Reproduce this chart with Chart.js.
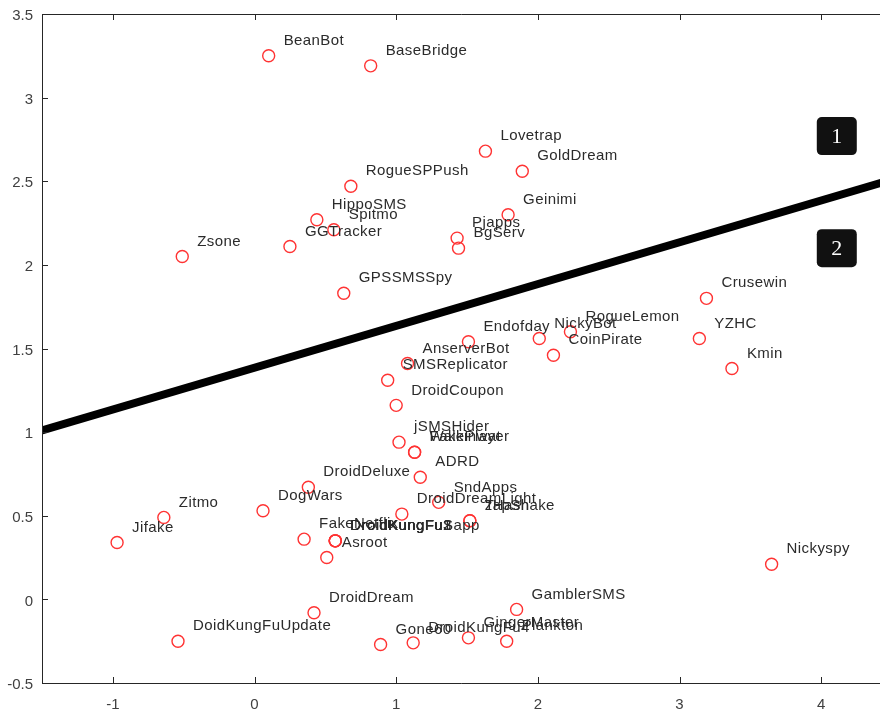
<!DOCTYPE html>
<html>
<head>
<meta charset="utf-8">
<script src="https://cdn.jsdelivr.net/npm/chart.js@4.4.0/dist/chart.umd.min.js"></script>
<style>
  html, body { margin: 0; padding: 0; background: #fff; overflow: hidden; }
  #wrap { width: 880px; height: 714px; position: relative; }
</style>
</head>
<body>
<div id="wrap"><canvas id="c"></canvas></div>
<script>
// malware families, position in the 2-D projection
const names = ['BeanBot', 'BaseBridge', 'Lovetrap', 'GoldDream', 'RogueSPPush', 'HippoSMS', 'Spitmo', 'GGTracker',
  'Geinimi', 'Pjapps', 'BgServ', 'Zsone', 'GPSSMSSpy', 'Crusewin', 'YZHC', 'Kmin', 'Endofday', 'NickyBot',
  'RogueLemon', 'CoinPirate', 'AnserverBot', 'SMSReplicator', 'DroidCoupon', 'jSMSHider', 'FakePlayer', 'Walkinwat',
  'ADRD', 'DroidDeluxe', 'DogWars', 'Zitmo', 'Jifake', 'SndApps', 'DroidDreamLight', 'zHash', 'TapSnake',
  'FakeNetflix', 'DroidKungFu1', 'DroidKungFu2', 'DroidKungFu3', 'DroidKungFuSapp', 'Asroot', 'Nickyspy',
  'DroidDream', 'GamblerSMS', 'DoidKungFuUpdate', 'Gone60', 'DroidKungFu4', 'GingerMaster', 'Plankton'];
const xs = [0.10, 0.82, 1.63, 1.89, 0.68, 0.44, 0.56, 0.25,
  1.79, 1.43, 1.44, -0.51, 0.63, 3.19, 3.14, 3.37, 1.51, 2.01,
  2.23, 2.11, 1.08, 0.94, 1.00, 1.02, 1.13, 1.13,
  1.17, 0.38, 0.06, -0.64, -0.97, 1.30, 1.04, 1.52, 1.52,
  0.35, 0.57, 0.57, 0.57, 0.57, 0.51, 3.65,
  0.42, 1.85, -0.54, 0.89, 1.12, 1.51, 1.78];
const ys = [3.25, 3.19, 2.68, 2.56, 2.47, 2.27, 2.21, 2.11,
  2.30, 2.16, 2.10, 2.05, 1.83, 1.80, 1.56, 1.38, 1.54, 1.56,
  1.60, 1.46, 1.41, 1.31, 1.16, 0.94, 0.88, 0.88,
  0.73, 0.67, 0.53, 0.49, 0.34, 0.58, 0.51, 0.47, 0.47,
  0.36, 0.35, 0.35, 0.35, 0.35, 0.25, 0.21,
  -0.08, -0.06, -0.25, -0.27, -0.26, -0.23, -0.25];

// separating line
const lineX = [-1.5, 4.5];
const lineY = [1.01, 2.51];

// region markers
const regionNames = ['1', '2'];
const regionX = [4.11, 4.11];
const regionY = [2.77, 2.10];

const xTicks = [-1, 0, 1, 2, 3, 4];
const yTicks = [-0.5, 0, 0.5, 1, 1.5, 2, 2.5, 3, 3.5];

const axisColor = '#262626';

const framePlugin = {
  id: 'frame',
  afterDatasetsDraw(chart) {
    const { ctx, chartArea: a, scales: { x, y } } = chart;
    ctx.save();
    ctx.strokeStyle = axisColor;
    ctx.lineWidth = 1;
    ctx.beginPath();
    ctx.moveTo(a.right, a.top + 0.5);
    ctx.lineTo(a.left + 0.5, a.top + 0.5);
    ctx.lineTo(a.left + 0.5, a.bottom + 0.5);
    ctx.lineTo(a.right, a.bottom + 0.5);
    xTicks.forEach((v) => {
      const p = Math.round(x.getPixelForValue(v)) + 0.5;
      ctx.moveTo(p, a.top); ctx.lineTo(p, a.top + 6);
      ctx.moveTo(p, a.bottom); ctx.lineTo(p, a.bottom - 6);
    });
    yTicks.forEach((v) => {
      const p = Math.round(y.getPixelForValue(v)) + 0.5;
      ctx.moveTo(a.left, p); ctx.lineTo(a.left + 6, p);
    });
    ctx.stroke();

    // point names
    ctx.font = '15px "Liberation Sans", Arial, sans-serif';
    ctx.letterSpacing = '0.4px';
    ctx.fillStyle = '#2b2b2b';
    ctx.textBaseline = 'middle';
    ctx.textAlign = 'left';
    const meta = chart.getDatasetMeta(1);
    meta.data.forEach((pt, i) => {
      ctx.fillText(names[i], pt.x + 15, pt.y - 15);
    });
    ctx.letterSpacing = '0px';

    // numbered boxes
    regionNames.forEach((t, i) => {
      const cx = x.getPixelForValue(regionX[i]);
      const cy = y.getPixelForValue(regionY[i]);
      ctx.fillStyle = '#111';
      ctx.beginPath();
      ctx.roundRect(cx - 20, cy - 19, 40, 38, 5);
      ctx.fill();
      ctx.fillStyle = '#fff';
      ctx.font = '22px "Liberation Serif", "DejaVu Serif", serif';
      ctx.textAlign = 'center';
      ctx.fillText(t, cx, cy + 1);
    });
    ctx.restore();
  }
};

const tickFont = { family: '"Liberation Sans", Arial', size: 15 };

new Chart(document.getElementById('c'), {
  data: {
    datasets: [
      {
        type: 'line',
        data: lineX.map((v, i) => ({ x: v, y: lineY[i] })),
        borderColor: '#000',
        borderWidth: 8,
        pointRadius: 0,
        borderCapStyle: 'butt'
      },
      {
        type: 'scatter',
        data: xs.map((v, i) => ({ x: v, y: ys[i] })),
        pointStyle: 'circle',
        pointRadius: 6,
        borderWidth: 1.4,
        borderColor: '#ff3333',
        backgroundColor: 'rgba(0,0,0,0)'
      }
    ]
  },
  options: {
    responsive: true,
    maintainAspectRatio: false,
    animation: false,
    layout: { autoPadding: false, padding: { top: 14, right: 0, left: 0, bottom: 0 } },
    plugins: { legend: { display: false }, tooltip: { enabled: false } },
    scales: {
      x: {
        type: 'linear',
        min: -1.5,
        max: 4.415,
        afterBuildTicks: (axis) => { axis.ticks = xTicks.map((v) => ({ value: v })); },
        afterFit: (axis) => { axis.height = 31; axis.paddingLeft = 0; axis.paddingRight = 0; },
        grid: { display: false, drawTicks: false },
        border: { display: false },
        ticks: { color: '#404040', font: tickFont, padding: 13, maxRotation: 0, callback: (v) => String(v) }
      },
      y: {
        type: 'linear',
        min: -0.5,
        max: 3.5,
        afterBuildTicks: (axis) => { axis.ticks = yTicks.map((v) => ({ value: v })); },
        afterFit: (axis) => { axis.width = 42; axis.paddingTop = 0; axis.paddingBottom = 0; },
        grid: { display: false, drawTicks: false },
        border: { display: false },
        ticks: { color: '#404040', font: tickFont, padding: 9, labelOffset: 2, callback: (v) => String(v) }
      }
    }
  },
  plugins: [framePlugin]
});
</script>
</body>
</html>
